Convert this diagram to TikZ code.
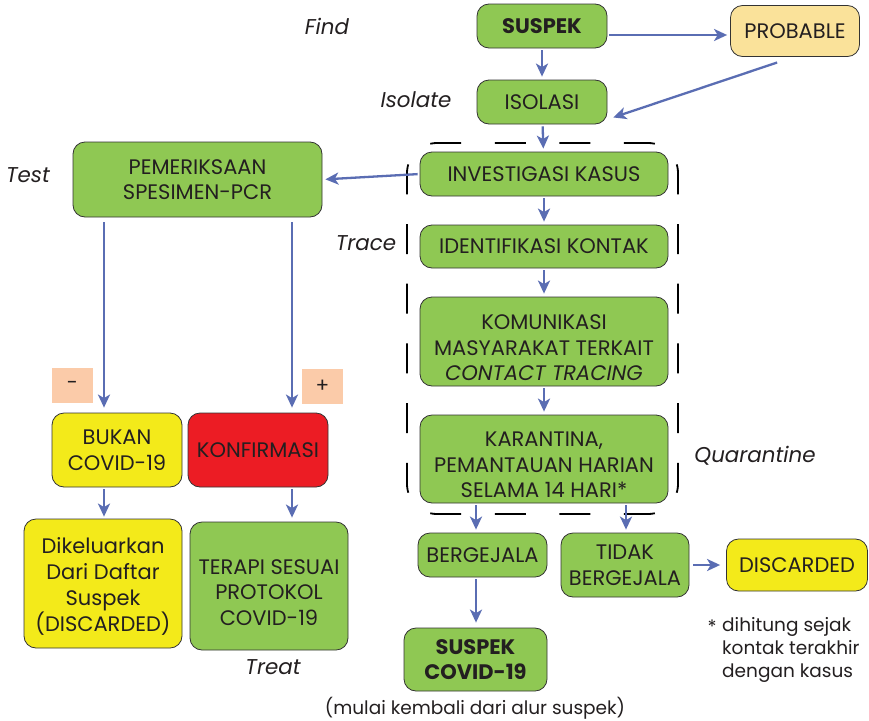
\documentclass[tikz,border=0pt]{standalone}
\usepackage{fontspec}
\setmainfont{Poppins}
\usetikzlibrary{arrows.meta,calc}
\definecolor{gr}{HTML}{8FC853}
\definecolor{ye}{HTML}{F3EA1A}
\definecolor{rd}{HTML}{EC1C24}
\definecolor{pr}{HTML}{FAE29A}
\definecolor{pe}{HTML}{FBCBA9}
\definecolor{ab}{HTML}{5A6DB3}
\definecolor{bd}{HTML}{333333}
\definecolor{tx}{HTML}{231F20}
\begin{document}
\begin{tikzpicture}[x=1pt,y=-1pt,
  box/.style={draw=bd, line width=0.8pt, rounded corners=12pt, align=center, inner sep=0pt, text=tx, font=\fontsize{21}{25.5}\selectfont},
  bbox/.style={box, font=\fontsize{21}{25.5}\selectfont\bfseries},
  btext/.style={align=center, inner sep=0pt, text=tx, font=\fontsize{21}{25.5}\selectfont},
  arr/.style={draw=ab, line width=2.3pt, -{Stealth[length=13pt,width=12pt,inset=3.5pt]}, shorten >=3pt, shorten <=2pt},
  lbl/.style={text=tx, font=\fontsize{21.4}{25}\selectfont\itshape, inner sep=0pt},
  note/.style={text=tx, inner sep=0pt, font=\fontsize{18.5}{23}\selectfont},
  sgn/.style={fill=pe, minimum width=41pt, minimum height=35pt, inner sep=0pt, text=tx, font=\fontsize{20}{22}\selectfont},
  grp/.style={draw=black, line width=1.8pt}]
\useasboundingbox (0,0) rectangle (869,720);
\fill[white] (0,0) rectangle (869,720);

% dashed group (dashes aligned to corners, per side)
\draw[grp, dash pattern=on 31pt off 33.55pt, dash phase=47.775pt]
  (415.79,151.79) arc[start angle=225, end angle=270, radius=30] -- (648,143) arc[start angle=270, end angle=315, radius=30];
\draw[grp, dash pattern=on 31pt off 33.55pt, dash phase=47.775pt]
  (415.79,505.21) arc[start angle=135, end angle=90, radius=30] -- (648,514) arc[start angle=90, end angle=45, radius=30];
\draw[grp, dash pattern=on 30pt off 29.7pt, dash phase=44.85pt]
  (415.79,151.79) arc[start angle=225, end angle=180, radius=30] -- (407,484) arc[start angle=180, end angle=135, radius=30];
\draw[grp, dash pattern=on 30pt off 29.7pt, dash phase=44.85pt]
  (669.21,151.79) arc[start angle=315, end angle=360, radius=30] -- (678,484) arc[start angle=0, end angle=45, radius=30];

% nodes
\node[bbox, fill=gr, minimum width=130pt, minimum height=44pt] (sus) at (542,26) {SUSPEK};
\node[box, fill=pr, minimum width=129pt, minimum height=51pt] (prob) at (795,31) {PROBABLE};
\node[box, fill=gr, minimum width=130pt, minimum height=44pt] (iso) at (542,102) {ISOLASI};
\node[box, fill=gr, minimum width=248pt, minimum height=44pt] (inv) at (544,174) {INVESTIGASI KASUS};
\node[box, fill=gr, minimum width=248pt, minimum height=43pt] (idk) at (544,246.5) {IDENTIFIKASI KONTAK};
\node[box, fill=gr, minimum width=248pt, minimum height=89pt] (kom) at (544,341.5) {};
\node[btext] (komt) at ([yshift=-6.5pt]kom.center) {KOMUNIKASI\\MASYARAKAT TERKAIT\\\textit{CONTACT TRACING}};
\node[box, fill=gr, minimum width=248pt, minimum height=88pt] (kar) at (544,459) {};
\node[btext] (kart) at ([yshift=-6pt]kar.center) {KARANTINA,\\PEMANTAUAN HARIAN\\SELAMA 14 HARI*};
\node[box, fill=gr, minimum width=129pt, minimum height=44pt] (berg) at (482.5,555) {BERGEJALA};
\node[box, fill=gr, minimum width=128pt, minimum height=64pt] (tidak) at (625,565) {TIDAK\\BERGEJALA};
\node[box, fill=ye, minimum width=141pt, minimum height=52pt] (disc) at (797,565) {DISCARDED};
\node[bbox, fill=gr, minimum width=143pt, minimum height=63pt] (scov) at (475.5,659.5) {SUSPEK\\COVID-19};

\node[box, fill=gr, minimum width=249pt, minimum height=75pt] (pem) at (197.5,179.5) {PEMERIKSAAN\\SPESIMEN-PCR};
\node[box, fill=ye, minimum width=130pt, minimum height=74pt] (bukan) at (117,450) {BUKAN\\COVID-19};
\node[box, fill=rd, minimum width=140pt, minimum height=74pt] (konf) at (258,450) {KONFIRMASI};
\node[box, fill=ye, minimum width=158pt, minimum height=129pt] (dik) at (103,583.5) {};
\node[btext, font=\fontsize{21}{26}\selectfont] (dikt) at ([yshift=-2.5pt]dik.center) {Dikeluarkan\\Dari Daftar\\Suspek\\(DISCARDED)};
\node[box, fill=gr, minimum width=158pt, minimum height=128pt] (ter) at (269,586) {};
\node[btext] (tert) at ([yshift=-6.5pt]ter.center) {TERAPI SESUAI\\PROTOKOL\\COVID-19};

\node[sgn] (minus) at (72.5,385.5) {-};
\node[sgn] (plus) at (322.5,386.5) {+};

% labels
\node[lbl] (lfind) at (327,26) {Find};
\node[lbl] (liso) at (416,100) {Isolate};
\node[lbl] (ltest) at (28,175) {Test};
\node[lbl] (ltrace) at (366,243) {Trace};
\node[lbl] (lquar) at (755,456) {Quarantine};
\node[lbl] (ltreat) at (273,667) {Treat};
\node[note] (mulai) at (475,708) {(mulai kembali dari alur suspek)};
\node[note] (ast) at (712,627) {*};
\node[note, anchor=north west, align=left] (foot) at (722,617) {dihitung sejak\\kontak terakhir\\dengan kasus};

% helper coordinates
\coordinate (xa) at (104,0);
\coordinate (xb) at (292,0);
\coordinate (xc) at (476,0);
\coordinate (xd) at (626,0);
\coordinate (ya) at (0,35);

% connectors
\draw[arr] (sus.east |- ya) -- (prob.west |- ya);
\draw[arr] (sus) -- (iso);
\draw[arr] ([xshift=-16pt,yshift=-5pt]prob.south) -- ([xshift=3pt,yshift=6pt]iso.south east);
\draw[arr] (iso) -- (inv);
\draw[arr] (inv) -- (idk);
\draw[arr] (idk) -- (kom);
\draw[arr] (kom) -- (kar);
\draw[arr] (inv.west) -- (pem.east);
\draw[arr, shorten <=5pt, shorten >=5pt] (pem.south -| xa) -- (bukan.north -| xa);
\draw[arr, shorten <=5pt, shorten >=5pt] (pem.south -| xb) -- (konf.north -| xb);
\draw[arr, shorten >=2pt] (bukan.south -| xa) -- (dik.north -| xa);
\draw[arr, shorten >=4pt] (konf.south -| xb) -- (ter.north -| xb);
\draw[arr] (kar.south -| xc) -- (berg.north -| xc);
\draw[arr] (kar.south -| xd) -- (tidak.north -| xd);
\draw[arr, shorten >=5pt] (berg.south -| xc) -- (scov.north -| xc);
\draw[arr, shorten <=4pt, shorten >=6pt] (tidak.east) -- (tidak.east -| disc.west);
\end{tikzpicture}
\end{document}
